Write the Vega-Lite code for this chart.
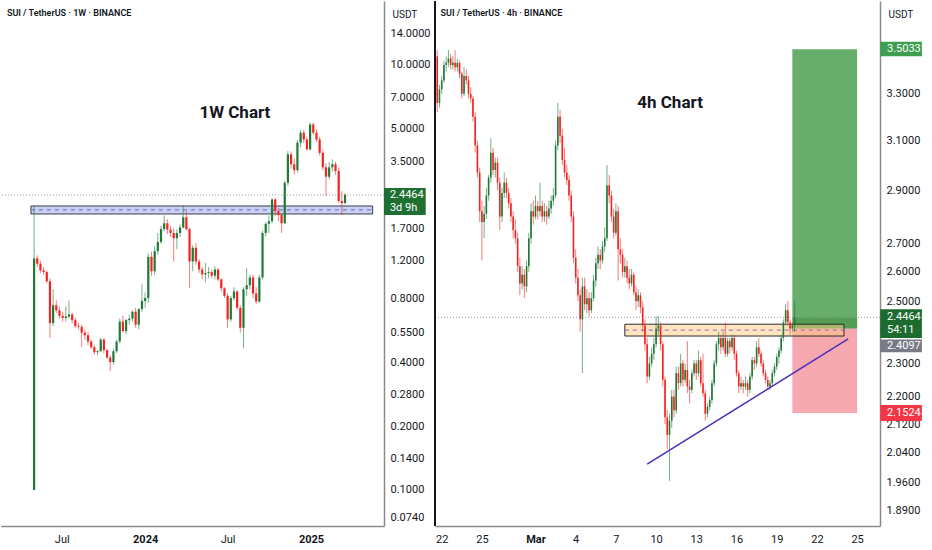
{
  "$schema": "https://vega.github.io/schema/vega-lite/v6.json",
  "padding": 0,
  "background": "white",
  "bounds": "flush",
  "spacing": 51,
  "config": {
    "view": {"stroke": null},
    "font": "Roboto",
    "axis": {"labelFont": "Roboto", "labelFontSize": 11, "labelColor": "#131722", "ticks": false, "grid": false, "domainColor": "#8a8a8a", "domainWidth": 1.5, "labelOverlap": false, "labelFlush": false}
  },
  "datasets": {
    "weekly": [
      {"t": "2023-05-01", "o": 0.1, "h": 2.17, "l": 0.1, "c": 1.23},
      {"t": "2023-05-08", "o": 1.23, "h": 1.27, "l": 1.12, "c": 1.16},
      {"t": "2023-05-15", "o": 1.16, "h": 1.2, "l": 1.05, "c": 1.08},
      {"t": "2023-05-22", "o": 1.08, "h": 1.12, "l": 1.03, "c": 1.06},
      {"t": "2023-05-29", "o": 1.06, "h": 1.08, "l": 0.94, "c": 0.96},
      {"t": "2023-06-05", "o": 0.96, "h": 0.99, "l": 0.52, "c": 0.61},
      {"t": "2023-06-12", "o": 0.61, "h": 0.88, "l": 0.59, "c": 0.74},
      {"t": "2023-06-19", "o": 0.74, "h": 0.78, "l": 0.68, "c": 0.7},
      {"t": "2023-06-26", "o": 0.7, "h": 0.73, "l": 0.64, "c": 0.66},
      {"t": "2023-07-03", "o": 0.66, "h": 0.69, "l": 0.62, "c": 0.645},
      {"t": "2023-07-10", "o": 0.645, "h": 0.73, "l": 0.62, "c": 0.655},
      {"t": "2023-07-17", "o": 0.655, "h": 0.78, "l": 0.64, "c": 0.67},
      {"t": "2023-07-24", "o": 0.67, "h": 0.68, "l": 0.61, "c": 0.63},
      {"t": "2023-07-31", "o": 0.63, "h": 0.645, "l": 0.58, "c": 0.59},
      {"t": "2023-08-07", "o": 0.59, "h": 0.61, "l": 0.57, "c": 0.585},
      {"t": "2023-08-14", "o": 0.585, "h": 0.6, "l": 0.47, "c": 0.55},
      {"t": "2023-08-21", "o": 0.55, "h": 0.57, "l": 0.51, "c": 0.535},
      {"t": "2023-08-28", "o": 0.535, "h": 0.555, "l": 0.48, "c": 0.5},
      {"t": "2023-09-04", "o": 0.5, "h": 0.51, "l": 0.46, "c": 0.47},
      {"t": "2023-09-11", "o": 0.47, "h": 0.48, "l": 0.435, "c": 0.445},
      {"t": "2023-09-18", "o": 0.445, "h": 0.455, "l": 0.43, "c": 0.45},
      {"t": "2023-09-25", "o": 0.45, "h": 0.52, "l": 0.445, "c": 0.51},
      {"t": "2023-10-02", "o": 0.51, "h": 0.52, "l": 0.44, "c": 0.455},
      {"t": "2023-10-09", "o": 0.455, "h": 0.46, "l": 0.415, "c": 0.42},
      {"t": "2023-10-16", "o": 0.42, "h": 0.43, "l": 0.364, "c": 0.4},
      {"t": "2023-10-23", "o": 0.4, "h": 0.46, "l": 0.39, "c": 0.45},
      {"t": "2023-10-30", "o": 0.45, "h": 0.51, "l": 0.44, "c": 0.5},
      {"t": "2023-11-06", "o": 0.5, "h": 0.64, "l": 0.49, "c": 0.62},
      {"t": "2023-11-13", "o": 0.62, "h": 0.66, "l": 0.55, "c": 0.56},
      {"t": "2023-11-20", "o": 0.56, "h": 0.64, "l": 0.54, "c": 0.63},
      {"t": "2023-11-27", "o": 0.63, "h": 0.67, "l": 0.6, "c": 0.64},
      {"t": "2023-12-04", "o": 0.64, "h": 0.7, "l": 0.62, "c": 0.69},
      {"t": "2023-12-11", "o": 0.69, "h": 0.72, "l": 0.58, "c": 0.6},
      {"t": "2023-12-18", "o": 0.6, "h": 0.72, "l": 0.57, "c": 0.71},
      {"t": "2023-12-25", "o": 0.71, "h": 0.93, "l": 0.69, "c": 0.775},
      {"t": "2024-01-01", "o": 0.775, "h": 0.85, "l": 0.72, "c": 0.8},
      {"t": "2024-01-08", "o": 0.8, "h": 1.3, "l": 0.76, "c": 1.25},
      {"t": "2024-01-15", "o": 1.25, "h": 1.32, "l": 1.02, "c": 1.07},
      {"t": "2024-01-22", "o": 1.07, "h": 1.4, "l": 1.03, "c": 1.33},
      {"t": "2024-01-29", "o": 1.33, "h": 1.62, "l": 1.28, "c": 1.47},
      {"t": "2024-02-05", "o": 1.47, "h": 1.75, "l": 1.44, "c": 1.69},
      {"t": "2024-02-12", "o": 1.69, "h": 1.96, "l": 1.65, "c": 1.8},
      {"t": "2024-02-19", "o": 1.8, "h": 1.88, "l": 1.6, "c": 1.68},
      {"t": "2024-02-26", "o": 1.68, "h": 1.75, "l": 1.55, "c": 1.62},
      {"t": "2024-03-04", "o": 1.62, "h": 1.7, "l": 1.19, "c": 1.53},
      {"t": "2024-03-11", "o": 1.53, "h": 1.68, "l": 1.36, "c": 1.62},
      {"t": "2024-03-18", "o": 1.62, "h": 1.78, "l": 1.55, "c": 1.72},
      {"t": "2024-03-25", "o": 1.72, "h": 2.18, "l": 1.7, "c": 1.92},
      {"t": "2024-04-01", "o": 1.92, "h": 2.05, "l": 1.66, "c": 1.69},
      {"t": "2024-04-08", "o": 1.69, "h": 1.72, "l": 0.89, "c": 1.19},
      {"t": "2024-04-15", "o": 1.19, "h": 1.42, "l": 1.07, "c": 1.38},
      {"t": "2024-04-22", "o": 1.38, "h": 1.45, "l": 1.15, "c": 1.19},
      {"t": "2024-04-29", "o": 1.19, "h": 1.22, "l": 1.05, "c": 1.09},
      {"t": "2024-05-06", "o": 1.09, "h": 1.12, "l": 0.98, "c": 1.035},
      {"t": "2024-05-13", "o": 1.035, "h": 1.17, "l": 0.95, "c": 1.05},
      {"t": "2024-05-20", "o": 1.05, "h": 1.12, "l": 0.99, "c": 1.06},
      {"t": "2024-05-27", "o": 1.06, "h": 1.09, "l": 0.99, "c": 1.02},
      {"t": "2024-06-03", "o": 1.02, "h": 1.13, "l": 0.98, "c": 1.09},
      {"t": "2024-06-10", "o": 1.09, "h": 1.11, "l": 0.96, "c": 0.98},
      {"t": "2024-06-17", "o": 0.98, "h": 0.99, "l": 0.86, "c": 0.89},
      {"t": "2024-06-24", "o": 0.89, "h": 0.9, "l": 0.8, "c": 0.82},
      {"t": "2024-07-01", "o": 0.82, "h": 0.84, "l": 0.58, "c": 0.635},
      {"t": "2024-07-08", "o": 0.635, "h": 0.82, "l": 0.62, "c": 0.8},
      {"t": "2024-07-15", "o": 0.8, "h": 0.9, "l": 0.78, "c": 0.86},
      {"t": "2024-07-22", "o": 0.86, "h": 0.87, "l": 0.7, "c": 0.72},
      {"t": "2024-07-29", "o": 0.72, "h": 0.74, "l": 0.55, "c": 0.58},
      {"t": "2024-08-05", "o": 0.58, "h": 0.9, "l": 0.465, "c": 0.88},
      {"t": "2024-08-12", "o": 0.88, "h": 1.11, "l": 0.82, "c": 0.92},
      {"t": "2024-08-19", "o": 0.92, "h": 1.03, "l": 0.88, "c": 1.0},
      {"t": "2024-08-26", "o": 1.0, "h": 1.03, "l": 0.8, "c": 0.84},
      {"t": "2024-09-02", "o": 0.84, "h": 0.9, "l": 0.75, "c": 0.77},
      {"t": "2024-09-09", "o": 0.77, "h": 1.03, "l": 0.76, "c": 1.0},
      {"t": "2024-09-16", "o": 1.0, "h": 1.66, "l": 0.98, "c": 1.62},
      {"t": "2024-09-23", "o": 1.62, "h": 1.82, "l": 1.56, "c": 1.79},
      {"t": "2024-09-30", "o": 1.79, "h": 1.96, "l": 1.62, "c": 1.84},
      {"t": "2024-10-07", "o": 1.84, "h": 2.36, "l": 1.8, "c": 2.33},
      {"t": "2024-10-14", "o": 2.33, "h": 2.37, "l": 1.95, "c": 2.05},
      {"t": "2024-10-21", "o": 2.05, "h": 2.12, "l": 1.85, "c": 1.97},
      {"t": "2024-10-28", "o": 1.97, "h": 2.0, "l": 1.62, "c": 1.8},
      {"t": "2024-11-04", "o": 1.8, "h": 2.85, "l": 1.78, "c": 2.79},
      {"t": "2024-11-11", "o": 2.79, "h": 3.94, "l": 2.7, "c": 3.8},
      {"t": "2024-11-18", "o": 3.8, "h": 3.92, "l": 3.25, "c": 3.41},
      {"t": "2024-11-25", "o": 3.41, "h": 3.62, "l": 3.05, "c": 3.2},
      {"t": "2024-12-02", "o": 3.2, "h": 4.45, "l": 3.12, "c": 4.31},
      {"t": "2024-12-09", "o": 4.31, "h": 4.95, "l": 4.1, "c": 4.8},
      {"t": "2024-12-16", "o": 4.8, "h": 4.95, "l": 4.3, "c": 4.46},
      {"t": "2024-12-23", "o": 4.46, "h": 4.6, "l": 3.95, "c": 4.01},
      {"t": "2024-12-30", "o": 4.01, "h": 5.36, "l": 3.95, "c": 5.25},
      {"t": "2025-01-06", "o": 5.25, "h": 5.36, "l": 4.7, "c": 4.8},
      {"t": "2025-01-13", "o": 4.8, "h": 5.0, "l": 4.35, "c": 4.46},
      {"t": "2025-01-20", "o": 4.46, "h": 4.6, "l": 3.75, "c": 3.86},
      {"t": "2025-01-27", "o": 3.86, "h": 4.0, "l": 3.2, "c": 3.3},
      {"t": "2025-02-03", "o": 3.3, "h": 3.45, "l": 2.42, "c": 2.98},
      {"t": "2025-02-10", "o": 2.98, "h": 3.5, "l": 2.9, "c": 3.3},
      {"t": "2025-02-17", "o": 3.3, "h": 3.6, "l": 3.15, "c": 3.41},
      {"t": "2025-02-24", "o": 3.41, "h": 3.5, "l": 3.05, "c": 3.17},
      {"t": "2025-03-03", "o": 3.17, "h": 3.3, "l": 2.25, "c": 2.29},
      {"t": "2025-03-10", "o": 2.29, "h": 2.55, "l": 1.97, "c": 2.24},
      {"t": "2025-03-17", "o": 2.24, "h": 2.5, "l": 2.21, "c": 2.4464}
    ],
    "h4": [
      {"t": "2025-02-21T16:00Z", "o": 3.47, "h": 3.5, "l": 3.22, "c": 3.26},
      {"t": "2025-02-21T20:00Z", "o": 3.26, "h": 3.34, "l": 3.24, "c": 3.32},
      {"t": "2025-02-22T00:00Z", "o": 3.32, "h": 3.38, "l": 3.3, "c": 3.36},
      {"t": "2025-02-22T04:00Z", "o": 3.36, "h": 3.45, "l": 3.35, "c": 3.43},
      {"t": "2025-02-22T08:00Z", "o": 3.43, "h": 3.47, "l": 3.4, "c": 3.44},
      {"t": "2025-02-22T12:00Z", "o": 3.44, "h": 3.5, "l": 3.42, "c": 3.46},
      {"t": "2025-02-22T16:00Z", "o": 3.46, "h": 3.48, "l": 3.41, "c": 3.43},
      {"t": "2025-02-22T20:00Z", "o": 3.43, "h": 3.47, "l": 3.41, "c": 3.44},
      {"t": "2025-02-23T00:00Z", "o": 3.44, "h": 3.5, "l": 3.4, "c": 3.42},
      {"t": "2025-02-23T04:00Z", "o": 3.42, "h": 3.46, "l": 3.4, "c": 3.44},
      {"t": "2025-02-23T08:00Z", "o": 3.44, "h": 3.45, "l": 3.37, "c": 3.39},
      {"t": "2025-02-23T12:00Z", "o": 3.39, "h": 3.4, "l": 3.28, "c": 3.3},
      {"t": "2025-02-23T16:00Z", "o": 3.3, "h": 3.42, "l": 3.29, "c": 3.38},
      {"t": "2025-02-23T20:00Z", "o": 3.38, "h": 3.41, "l": 3.34, "c": 3.36},
      {"t": "2025-02-24T00:00Z", "o": 3.36, "h": 3.38, "l": 3.28, "c": 3.3},
      {"t": "2025-02-24T04:00Z", "o": 3.3, "h": 3.33, "l": 3.26, "c": 3.28},
      {"t": "2025-02-24T08:00Z", "o": 3.28, "h": 3.29, "l": 3.18, "c": 3.2},
      {"t": "2025-02-24T12:00Z", "o": 3.2, "h": 3.22, "l": 3.05, "c": 3.08},
      {"t": "2025-02-24T16:00Z", "o": 3.08, "h": 3.1, "l": 2.95, "c": 2.97},
      {"t": "2025-02-24T20:00Z", "o": 2.97, "h": 2.99, "l": 2.78, "c": 2.82},
      {"t": "2025-02-25T00:00Z", "o": 2.82, "h": 2.86, "l": 2.64, "c": 2.78},
      {"t": "2025-02-25T04:00Z", "o": 2.78, "h": 2.84, "l": 2.72, "c": 2.81},
      {"t": "2025-02-25T08:00Z", "o": 2.81, "h": 2.91, "l": 2.79, "c": 2.88},
      {"t": "2025-02-25T12:00Z", "o": 2.88, "h": 2.96, "l": 2.86, "c": 2.95},
      {"t": "2025-02-25T16:00Z", "o": 2.95, "h": 3.11, "l": 2.93, "c": 3.05},
      {"t": "2025-02-25T20:00Z", "o": 3.05, "h": 3.07, "l": 2.96, "c": 2.98},
      {"t": "2025-02-26T00:00Z", "o": 2.98, "h": 3.03, "l": 2.95, "c": 3.01},
      {"t": "2025-02-26T04:00Z", "o": 3.01, "h": 3.03, "l": 2.9, "c": 2.93},
      {"t": "2025-02-26T08:00Z", "o": 2.93, "h": 2.95, "l": 2.75, "c": 2.8},
      {"t": "2025-02-26T12:00Z", "o": 2.8, "h": 2.91, "l": 2.78, "c": 2.89},
      {"t": "2025-02-26T16:00Z", "o": 2.89, "h": 2.97, "l": 2.87, "c": 2.93},
      {"t": "2025-02-26T20:00Z", "o": 2.93, "h": 2.95, "l": 2.87, "c": 2.89},
      {"t": "2025-02-27T00:00Z", "o": 2.89, "h": 2.91, "l": 2.83, "c": 2.85},
      {"t": "2025-02-27T04:00Z", "o": 2.85, "h": 2.87, "l": 2.78, "c": 2.8},
      {"t": "2025-02-27T08:00Z", "o": 2.8, "h": 2.82, "l": 2.72, "c": 2.75},
      {"t": "2025-02-27T12:00Z", "o": 2.75, "h": 2.79, "l": 2.7, "c": 2.72},
      {"t": "2025-02-27T16:00Z", "o": 2.72, "h": 2.74, "l": 2.6, "c": 2.62},
      {"t": "2025-02-27T20:00Z", "o": 2.62, "h": 2.65, "l": 2.52, "c": 2.56},
      {"t": "2025-02-28T00:00Z", "o": 2.56, "h": 2.62, "l": 2.54, "c": 2.59},
      {"t": "2025-02-28T04:00Z", "o": 2.59, "h": 2.61, "l": 2.51, "c": 2.55},
      {"t": "2025-02-28T08:00Z", "o": 2.55, "h": 2.64, "l": 2.53, "c": 2.62},
      {"t": "2025-02-28T12:00Z", "o": 2.62, "h": 2.74, "l": 2.6, "c": 2.72},
      {"t": "2025-02-28T16:00Z", "o": 2.72, "h": 2.85, "l": 2.7, "c": 2.82},
      {"t": "2025-02-28T20:00Z", "o": 2.82, "h": 2.86, "l": 2.77, "c": 2.8},
      {"t": "2025-03-01T00:00Z", "o": 2.8, "h": 2.88, "l": 2.79, "c": 2.84},
      {"t": "2025-03-01T04:00Z", "o": 2.84, "h": 2.86, "l": 2.79, "c": 2.82},
      {"t": "2025-03-01T08:00Z", "o": 2.82, "h": 2.93, "l": 2.8, "c": 2.84},
      {"t": "2025-03-01T12:00Z", "o": 2.84, "h": 2.86, "l": 2.78, "c": 2.8},
      {"t": "2025-03-01T16:00Z", "o": 2.8, "h": 2.85, "l": 2.78, "c": 2.82},
      {"t": "2025-03-01T20:00Z", "o": 2.82, "h": 2.84, "l": 2.77, "c": 2.8},
      {"t": "2025-03-02T00:00Z", "o": 2.8, "h": 2.86, "l": 2.79, "c": 2.83},
      {"t": "2025-03-02T04:00Z", "o": 2.83, "h": 2.88, "l": 2.81, "c": 2.86},
      {"t": "2025-03-02T08:00Z", "o": 2.86, "h": 2.91, "l": 2.84, "c": 2.88},
      {"t": "2025-03-02T12:00Z", "o": 2.88, "h": 3.1, "l": 2.87, "c": 3.08},
      {"t": "2025-03-02T16:00Z", "o": 3.08, "h": 3.26, "l": 3.06, "c": 3.2},
      {"t": "2025-03-02T20:00Z", "o": 3.2, "h": 3.23, "l": 3.09, "c": 3.12},
      {"t": "2025-03-03T00:00Z", "o": 3.12, "h": 3.15, "l": 3.0, "c": 3.02},
      {"t": "2025-03-03T04:00Z", "o": 3.02, "h": 3.07, "l": 2.95, "c": 2.97},
      {"t": "2025-03-03T08:00Z", "o": 2.97, "h": 3.0, "l": 2.92, "c": 2.94},
      {"t": "2025-03-03T12:00Z", "o": 2.94, "h": 2.96, "l": 2.86, "c": 2.88},
      {"t": "2025-03-03T16:00Z", "o": 2.88, "h": 2.9, "l": 2.78, "c": 2.8},
      {"t": "2025-03-03T20:00Z", "o": 2.8, "h": 2.82, "l": 2.63, "c": 2.65},
      {"t": "2025-03-04T00:00Z", "o": 2.65, "h": 2.68, "l": 2.56, "c": 2.58},
      {"t": "2025-03-04T04:00Z", "o": 2.58, "h": 2.61, "l": 2.5, "c": 2.52},
      {"t": "2025-03-04T08:00Z", "o": 2.52, "h": 2.54, "l": 2.4, "c": 2.44},
      {"t": "2025-03-04T12:00Z", "o": 2.44, "h": 2.58, "l": 2.27, "c": 2.55},
      {"t": "2025-03-04T16:00Z", "o": 2.55, "h": 2.58, "l": 2.47, "c": 2.49},
      {"t": "2025-03-04T20:00Z", "o": 2.49, "h": 2.54, "l": 2.46, "c": 2.51},
      {"t": "2025-03-05T00:00Z", "o": 2.51, "h": 2.53, "l": 2.45, "c": 2.47},
      {"t": "2025-03-05T04:00Z", "o": 2.47, "h": 2.53, "l": 2.46, "c": 2.51},
      {"t": "2025-03-05T08:00Z", "o": 2.51, "h": 2.59, "l": 2.5, "c": 2.57},
      {"t": "2025-03-05T12:00Z", "o": 2.57, "h": 2.65, "l": 2.55, "c": 2.63},
      {"t": "2025-03-05T16:00Z", "o": 2.63, "h": 2.69, "l": 2.61, "c": 2.66},
      {"t": "2025-03-05T20:00Z", "o": 2.66, "h": 2.68, "l": 2.61, "c": 2.64},
      {"t": "2025-03-06T00:00Z", "o": 2.64, "h": 2.71, "l": 2.63, "c": 2.69},
      {"t": "2025-03-06T04:00Z", "o": 2.69, "h": 2.76, "l": 2.67, "c": 2.72},
      {"t": "2025-03-06T08:00Z", "o": 2.72, "h": 3.0, "l": 2.71, "c": 2.92},
      {"t": "2025-03-06T12:00Z", "o": 2.92, "h": 2.96, "l": 2.85, "c": 2.88},
      {"t": "2025-03-06T16:00Z", "o": 2.88, "h": 2.9, "l": 2.78, "c": 2.8},
      {"t": "2025-03-06T20:00Z", "o": 2.8, "h": 2.83, "l": 2.72, "c": 2.74},
      {"t": "2025-03-07T00:00Z", "o": 2.74, "h": 2.85, "l": 2.73, "c": 2.82},
      {"t": "2025-03-07T04:00Z", "o": 2.82, "h": 2.84, "l": 2.57, "c": 2.68},
      {"t": "2025-03-07T08:00Z", "o": 2.68, "h": 2.72, "l": 2.63, "c": 2.66},
      {"t": "2025-03-07T12:00Z", "o": 2.66, "h": 2.68, "l": 2.58, "c": 2.6},
      {"t": "2025-03-07T16:00Z", "o": 2.6, "h": 2.65, "l": 2.58, "c": 2.62},
      {"t": "2025-03-07T20:00Z", "o": 2.62, "h": 2.64, "l": 2.56, "c": 2.58},
      {"t": "2025-03-08T00:00Z", "o": 2.58, "h": 2.61, "l": 2.54, "c": 2.56},
      {"t": "2025-03-08T04:00Z", "o": 2.56, "h": 2.61, "l": 2.55, "c": 2.59},
      {"t": "2025-03-08T08:00Z", "o": 2.59, "h": 2.6, "l": 2.52, "c": 2.53},
      {"t": "2025-03-08T12:00Z", "o": 2.53, "h": 2.55, "l": 2.47, "c": 2.5},
      {"t": "2025-03-08T16:00Z", "o": 2.5, "h": 2.54, "l": 2.48, "c": 2.52},
      {"t": "2025-03-08T20:00Z", "o": 2.52, "h": 2.53, "l": 2.46, "c": 2.48},
      {"t": "2025-03-09T00:00Z", "o": 2.48, "h": 2.5, "l": 2.4, "c": 2.42},
      {"t": "2025-03-09T04:00Z", "o": 2.42, "h": 2.44, "l": 2.34, "c": 2.36},
      {"t": "2025-03-09T08:00Z", "o": 2.36, "h": 2.38, "l": 2.24, "c": 2.26},
      {"t": "2025-03-09T12:00Z", "o": 2.26, "h": 2.32, "l": 2.25, "c": 2.3},
      {"t": "2025-03-09T16:00Z", "o": 2.3, "h": 2.35, "l": 2.29, "c": 2.33},
      {"t": "2025-03-09T20:00Z", "o": 2.33, "h": 2.38, "l": 2.31, "c": 2.36},
      {"t": "2025-03-10T00:00Z", "o": 2.36, "h": 2.45, "l": 2.35, "c": 2.41},
      {"t": "2025-03-10T04:00Z", "o": 2.41, "h": 2.45, "l": 2.39, "c": 2.42},
      {"t": "2025-03-10T08:00Z", "o": 2.42, "h": 2.43, "l": 2.34, "c": 2.36},
      {"t": "2025-03-10T12:00Z", "o": 2.36, "h": 2.37, "l": 2.23, "c": 2.25},
      {"t": "2025-03-10T16:00Z", "o": 2.25, "h": 2.26, "l": 2.12, "c": 2.14},
      {"t": "2025-03-10T20:00Z", "o": 2.14, "h": 2.16, "l": 2.05, "c": 2.09},
      {"t": "2025-03-11T00:00Z", "o": 2.09, "h": 2.15, "l": 1.965, "c": 2.13},
      {"t": "2025-03-11T04:00Z", "o": 2.13, "h": 2.22, "l": 2.11, "c": 2.2},
      {"t": "2025-03-11T08:00Z", "o": 2.2, "h": 2.22, "l": 2.14, "c": 2.16},
      {"t": "2025-03-11T12:00Z", "o": 2.16, "h": 2.29, "l": 2.15, "c": 2.27},
      {"t": "2025-03-11T16:00Z", "o": 2.27, "h": 2.29, "l": 2.22, "c": 2.24},
      {"t": "2025-03-11T20:00Z", "o": 2.24, "h": 2.33, "l": 2.23, "c": 2.3},
      {"t": "2025-03-12T00:00Z", "o": 2.3, "h": 2.31, "l": 2.23, "c": 2.25},
      {"t": "2025-03-12T04:00Z", "o": 2.25, "h": 2.3, "l": 2.24, "c": 2.28},
      {"t": "2025-03-12T08:00Z", "o": 2.28, "h": 2.37, "l": 2.21, "c": 2.23},
      {"t": "2025-03-12T12:00Z", "o": 2.23, "h": 2.25, "l": 2.18, "c": 2.22},
      {"t": "2025-03-12T16:00Z", "o": 2.22, "h": 2.28, "l": 2.21, "c": 2.27},
      {"t": "2025-03-12T20:00Z", "o": 2.27, "h": 2.31, "l": 2.26, "c": 2.3},
      {"t": "2025-03-13T00:00Z", "o": 2.3, "h": 2.31, "l": 2.25, "c": 2.27},
      {"t": "2025-03-13T04:00Z", "o": 2.27, "h": 2.34, "l": 2.26, "c": 2.31},
      {"t": "2025-03-13T08:00Z", "o": 2.31, "h": 2.32, "l": 2.23, "c": 2.24},
      {"t": "2025-03-13T12:00Z", "o": 2.24, "h": 2.33, "l": 2.2, "c": 2.21},
      {"t": "2025-03-13T16:00Z", "o": 2.21, "h": 2.22, "l": 2.13, "c": 2.15},
      {"t": "2025-03-13T20:00Z", "o": 2.15, "h": 2.18, "l": 2.14, "c": 2.17},
      {"t": "2025-03-14T00:00Z", "o": 2.17, "h": 2.2, "l": 2.16, "c": 2.19},
      {"t": "2025-03-14T04:00Z", "o": 2.19, "h": 2.25, "l": 2.18, "c": 2.24},
      {"t": "2025-03-14T08:00Z", "o": 2.24, "h": 2.31, "l": 2.23, "c": 2.3},
      {"t": "2025-03-14T12:00Z", "o": 2.3, "h": 2.37, "l": 2.29, "c": 2.36},
      {"t": "2025-03-14T16:00Z", "o": 2.36, "h": 2.4, "l": 2.34, "c": 2.38},
      {"t": "2025-03-14T20:00Z", "o": 2.38, "h": 2.39, "l": 2.33, "c": 2.35},
      {"t": "2025-03-15T00:00Z", "o": 2.35, "h": 2.4, "l": 2.34, "c": 2.38},
      {"t": "2025-03-15T04:00Z", "o": 2.38, "h": 2.43, "l": 2.32, "c": 2.33},
      {"t": "2025-03-15T08:00Z", "o": 2.33, "h": 2.38, "l": 2.32, "c": 2.37},
      {"t": "2025-03-15T12:00Z", "o": 2.37, "h": 2.38, "l": 2.33, "c": 2.35},
      {"t": "2025-03-15T16:00Z", "o": 2.35, "h": 2.39, "l": 2.34, "c": 2.38},
      {"t": "2025-03-15T20:00Z", "o": 2.38, "h": 2.39, "l": 2.31, "c": 2.33},
      {"t": "2025-03-16T00:00Z", "o": 2.33, "h": 2.34, "l": 2.26, "c": 2.27},
      {"t": "2025-03-16T04:00Z", "o": 2.27, "h": 2.28, "l": 2.21, "c": 2.23},
      {"t": "2025-03-16T08:00Z", "o": 2.23, "h": 2.26, "l": 2.22, "c": 2.24},
      {"t": "2025-03-16T12:00Z", "o": 2.24, "h": 2.25, "l": 2.21, "c": 2.23},
      {"t": "2025-03-16T16:00Z", "o": 2.23, "h": 2.26, "l": 2.22, "c": 2.24},
      {"t": "2025-03-16T20:00Z", "o": 2.24, "h": 2.25, "l": 2.2, "c": 2.22},
      {"t": "2025-03-17T00:00Z", "o": 2.22, "h": 2.27, "l": 2.21, "c": 2.26},
      {"t": "2025-03-17T04:00Z", "o": 2.26, "h": 2.32, "l": 2.25, "c": 2.31},
      {"t": "2025-03-17T08:00Z", "o": 2.31, "h": 2.32, "l": 2.28, "c": 2.3},
      {"t": "2025-03-17T12:00Z", "o": 2.3, "h": 2.37, "l": 2.29, "c": 2.35},
      {"t": "2025-03-17T16:00Z", "o": 2.35, "h": 2.38, "l": 2.32, "c": 2.33},
      {"t": "2025-03-17T20:00Z", "o": 2.33, "h": 2.34, "l": 2.29, "c": 2.3},
      {"t": "2025-03-18T00:00Z", "o": 2.3, "h": 2.31, "l": 2.26, "c": 2.27},
      {"t": "2025-03-18T04:00Z", "o": 2.27, "h": 2.28, "l": 2.24, "c": 2.25},
      {"t": "2025-03-18T08:00Z", "o": 2.25, "h": 2.26, "l": 2.22, "c": 2.23},
      {"t": "2025-03-18T12:00Z", "o": 2.23, "h": 2.25, "l": 2.22, "c": 2.24},
      {"t": "2025-03-18T16:00Z", "o": 2.24, "h": 2.28, "l": 2.23, "c": 2.27},
      {"t": "2025-03-18T20:00Z", "o": 2.27, "h": 2.3, "l": 2.26, "c": 2.29},
      {"t": "2025-03-19T00:00Z", "o": 2.29, "h": 2.33, "l": 2.28, "c": 2.32},
      {"t": "2025-03-19T04:00Z", "o": 2.32, "h": 2.35, "l": 2.3, "c": 2.34},
      {"t": "2025-03-19T08:00Z", "o": 2.34, "h": 2.39, "l": 2.33, "c": 2.38},
      {"t": "2025-03-19T12:00Z", "o": 2.38, "h": 2.44, "l": 2.37, "c": 2.43},
      {"t": "2025-03-19T16:00Z", "o": 2.43, "h": 2.49, "l": 2.42, "c": 2.47},
      {"t": "2025-03-19T20:00Z", "o": 2.47, "h": 2.5, "l": 2.42, "c": 2.43},
      {"t": "2025-03-20T00:00Z", "o": 2.43, "h": 2.44, "l": 2.39, "c": 2.41},
      {"t": "2025-03-20T04:00Z", "o": 2.41, "h": 2.43, "l": 2.4, "c": 2.42},
      {"t": "2025-03-20T08:00Z", "o": 2.42, "h": 2.5, "l": 2.4, "c": 2.4464}
    ],
    "wzone": [{"t1": "2023-04-24", "t2": "2025-05-17", "lo": 1.99, "hi": 2.17, "mid": 2.08}],
    "hzone": [{"t1": "2025-03-07T16:00Z", "t2": "2025-03-24T00:30Z", "lo": 2.386, "hi": 2.424, "mid": 2.405}],
    "pos": [{"t1": "2025-03-20T04:00Z", "t2": "2025-03-25T00:00Z", "stop": 2.1524, "entry": 2.4097, "last": 2.4464, "target": 3.5033}],
    "trend": [{"t": "2025-03-09T08:00Z", "p": 2.0096}, {"t": "2025-03-24T08:00Z", "p": 2.377}],
    "hbox": [
      {"kind": "target", "t1": "2025-03-26T17:30Z", "t2": "2025-03-29T20:00Z", "lo": 3.471, "hi": 3.538},
      {"kind": "last", "t1": "2025-03-26T17:30Z", "t2": "2025-03-29T20:00Z", "lo": 2.38, "hi": 2.473},
      {"kind": "entry", "t1": "2025-03-26T17:30Z", "t2": "2025-03-29T20:00Z", "lo": 2.335, "hi": 2.375},
      {"kind": "stop", "t1": "2025-03-26T17:30Z", "t2": "2025-03-29T20:00Z", "lo": 2.129, "hi": 2.1755}
    ],
    "hboxtext": [
      {"t": "2025-03-27T05:30Z", "p": 3.5033, "label": "3.5033"},
      {"t": "2025-03-27T05:30Z", "p": 2.4464, "label": "2.4464"},
      {"t": "2025-03-27T05:30Z", "p": 2.405, "label": "54:11"},
      {"t": "2025-03-27T05:30Z", "p": 2.355, "label": "2.4097"},
      {"t": "2025-03-27T05:30Z", "p": 2.1524, "label": "2.1524"}
    ]
  },
  "hconcat": [
    {
      "width": 383,
      "height": 525,
      "layer": [
        {
          "data": {"name": "wzone"},
          "mark": {"type": "rect", "fill": "#c9cff5", "stroke": "#3c4043", "strokeWidth": 1},
          "encoding": {
            "x": {"field": "t1", "type": "temporal"},
            "x2": {"field": "t2"},
            "y": {"field": "lo", "type": "quantitative"},
            "y2": {"field": "hi"}
          }
        },
        {
          "data": {"name": "wzone"},
          "mark": {"type": "rule", "color": "#5c6bc0", "strokeDash": [4, 4], "strokeWidth": 1},
          "encoding": {
            "x": {"field": "t1", "type": "temporal"},
            "x2": {"field": "t2"},
            "y": {"field": "mid", "type": "quantitative"}
          }
        },
        {
          "data": {"values": [{"p": 2.4464}]},
          "mark": {"type": "rule", "color": "#9e9e9e", "strokeDash": [1, 2], "strokeWidth": 1},
          "encoding": {"y": {"field": "p", "type": "quantitative"}}
        },
        {
          "data": {"name": "weekly"},
          "mark": {"type": "rule", "strokeWidth": 1, "opacity": 0.6},
          "encoding": {
            "x": {
              "field": "t", "type": "temporal",
              "scale": {"type": "utc", "domain": [{"year": 2023, "month": 2, "date": 17, "utc": true}, {"year": 2025, "month": 6, "date": 11, "utc": true}], "nice": false, "padding": 0},
              "axis": {
                "title": null, "labelPadding": 7,
                "values": [{"year": 2023, "month": 7, "date": 1, "utc": true}, {"year": 2024, "month": 1, "date": 1, "utc": true}, {"year": 2024, "month": 7, "date": 1, "utc": true}, {"year": 2025, "month": 1, "date": 1, "utc": true}],
                "labelExpr": "utcmonth(datum.value) == 0 ? utcFormat(datum.value, '%Y') : utcFormat(datum.value, '%b')",
                "labelFontWeight": {"condition": {"test": "utcmonth(datum.value) == 0", "value": "bold"}, "value": "normal"}
              }
            },
            "y": {
              "field": "l", "type": "quantitative",
              "scale": {"type": "log", "domain": [0.0677, 20], "nice": false},
              "axis": {
                "orient": "right", "format": ".4f", "labelPadding": 6,
                "values": [0.074, 0.1, 0.14, 0.2, 0.28, 0.4, 0.55, 0.8, 1.2, 1.7, 3.5, 5, 7, 10, 14],
                "title": "USDT", "titleAngle": 0, "titleAlign": "left", "titleBaseline": "middle", "titleX": 8, "titleY": 13,
                "titleFontWeight": "normal", "titleFontSize": 10, "titleColor": "#131722", "titleFont": "Roboto"
              }
            },
            "y2": {"field": "h"},
            "color": {"condition": {"test": "datum.c >= datum.o", "value": "#1f7a36"}, "value": "#f7221f"}
          }
        },
        {
          "data": {"name": "weekly"},
          "mark": {"type": "bar", "width": 2.2},
          "encoding": {
            "x": {"field": "t", "type": "temporal"},
            "y": {"field": "o", "type": "quantitative"},
            "y2": {"field": "c"},
            "color": {"condition": {"test": "datum.c >= datum.o", "value": "#1f7a36"}, "value": "#f7221f"}
          }
        },
        {
          "data": {"values": [{"t": "2024-07-17", "p": 5.95, "label": "1W Chart"}]},
          "mark": {"type": "text", "fontSize": 17, "fontWeight": "bold", "color": "#131722", "baseline": "middle"},
          "encoding": {
            "x": {"field": "t", "type": "temporal"},
            "y": {"field": "p", "type": "quantitative"},
            "text": {"field": "label"}
          }
        },
        {
          "data": {"values": [{"t": "2023-03-02", "p": 17.6, "label": "SUI / TetherUS · 1W · BINANCE"}]},
          "mark": {"type": "text", "fontSize": 9, "fontWeight": 600, "color": "#131722", "align": "left", "baseline": "middle"},
          "encoding": {
            "x": {"field": "t", "type": "temporal"},
            "y": {"field": "p", "type": "quantitative"},
            "text": {"field": "label"}
          }
        },
        {
          "data": {"values": [{"t1": "2025-06-11", "t2": "2025-09-11", "lo": 1.97, "hi": 2.64}]},
          "mark": {"type": "rect", "fill": "#1f6f32"},
          "encoding": {
            "x": {"field": "t1", "type": "temporal"},
            "x2": {"field": "t2"},
            "y": {"field": "lo", "type": "quantitative"},
            "y2": {"field": "hi"}
          }
        },
        {
          "data": {"values": [{"t": "2025-06-24", "p": 2.446, "label": "2.4464"}, {"t": "2025-06-24", "p": 2.12, "label": "3d 9h"}]},
          "mark": {"type": "text", "fontSize": 11, "color": "#ffffff", "align": "left", "baseline": "middle"},
          "encoding": {
            "x": {"field": "t", "type": "temporal"},
            "y": {"field": "p", "type": "quantitative"},
            "text": {"field": "label"}
          }
        }
      ]
    },
    {
      "width": 445,
      "height": 525,
      "layer": [
        {
          "data": {"name": "pos"},
          "mark": {"type": "rect", "fill": "#67ae6b"},
          "encoding": {
            "x": {"field": "t1", "type": "temporal"},
            "x2": {"field": "t2"},
            "y": {"field": "entry", "type": "quantitative"},
            "y2": {"field": "target"}
          }
        },
        {
          "data": {"name": "pos"},
          "mark": {"type": "rect", "fill": "#2e7d32", "opacity": 0.35},
          "encoding": {
            "x": {"field": "t1", "type": "temporal"},
            "x2": {"field": "t2"},
            "y": {"field": "entry", "type": "quantitative"},
            "y2": {"field": "last"}
          }
        },
        {
          "data": {"name": "pos"},
          "mark": {"type": "rect", "fill": "#f6a8af"},
          "encoding": {
            "x": {"field": "t1", "type": "temporal"},
            "x2": {"field": "t2"},
            "y": {"field": "stop", "type": "quantitative"},
            "y2": {"field": "entry"}
          }
        },
        {
          "data": {"values": [{"p": 2.4464}]},
          "mark": {"type": "rule", "color": "#9e9e9e", "strokeDash": [1, 2], "strokeWidth": 1},
          "encoding": {"y": {"field": "p", "type": "quantitative"}}
        },
        {
          "data": {"name": "hzone"},
          "mark": {"type": "rect", "fill": "#ffcc80", "fillOpacity": 0.5, "stroke": "#2b2b2b", "strokeWidth": 1},
          "encoding": {
            "x": {"field": "t1", "type": "temporal"},
            "x2": {"field": "t2"},
            "y": {"field": "lo", "type": "quantitative"},
            "y2": {"field": "hi"}
          }
        },
        {
          "data": {"name": "hzone"},
          "mark": {"type": "rule", "color": "#9c5fc9", "strokeDash": [4, 4], "strokeWidth": 1},
          "encoding": {
            "x": {"field": "t1", "type": "temporal"},
            "x2": {"field": "t2"},
            "y": {"field": "mid", "type": "quantitative"}
          }
        },
        {
          "data": {"name": "h4"},
          "mark": {"type": "rule", "strokeWidth": 1, "opacity": 0.6},
          "encoding": {
            "x": {
              "field": "t", "type": "temporal",
              "scale": {"type": "utc", "domain": [{"year": 2025, "month": 2, "date": 21, "hours": 12, "utc": true}, {"year": 2025, "month": 3, "date": 26, "hours": 17, "utc": true}], "nice": false, "padding": 0},
              "axis": {
                "title": null, "labelPadding": 7,
                "values": [
                  {"year": 2025, "month": 2, "date": 22, "utc": true}, {"year": 2025, "month": 2, "date": 25, "utc": true},
                  {"year": 2025, "month": 3, "date": 1, "utc": true}, {"year": 2025, "month": 3, "date": 4, "utc": true},
                  {"year": 2025, "month": 3, "date": 7, "utc": true}, {"year": 2025, "month": 3, "date": 10, "utc": true},
                  {"year": 2025, "month": 3, "date": 13, "utc": true}, {"year": 2025, "month": 3, "date": 16, "utc": true},
                  {"year": 2025, "month": 3, "date": 19, "utc": true}, {"year": 2025, "month": 3, "date": 22, "utc": true},
                  {"year": 2025, "month": 3, "date": 25, "utc": true}
                ],
                "labelExpr": "utcdate(datum.value) == 1 ? 'Mar' : '' + utcdate(datum.value)",
                "labelFontWeight": {"condition": {"test": "utcdate(datum.value) == 1", "value": "bold"}, "value": "normal"}
              }
            },
            "y": {
              "field": "l", "type": "quantitative",
              "scale": {"type": "log", "domain": [1.85, 3.737], "nice": false},
              "axis": {
                "orient": "right", "format": ".4f", "labelPadding": 6,
                "values": [1.89, 1.96, 2.04, 2.12, 2.2, 2.3, 2.5, 2.6, 2.7, 2.9, 3.1, 3.3],
                "title": "USDT", "titleAngle": 0, "titleAlign": "left", "titleBaseline": "middle", "titleX": 8, "titleY": 13,
                "titleFontWeight": "normal", "titleFontSize": 10, "titleColor": "#131722", "titleFont": "Roboto"
              }
            },
            "y2": {"field": "h"},
            "color": {"condition": {"test": "datum.c >= datum.o", "value": "#1f7a36"}, "value": "#f7221f"}
          }
        },
        {
          "data": {"name": "h4"},
          "mark": {"type": "bar", "width": 1.6},
          "encoding": {
            "x": {"field": "t", "type": "temporal"},
            "y": {"field": "o", "type": "quantitative"},
            "y2": {"field": "c"},
            "color": {"condition": {"test": "datum.c >= datum.o", "value": "#1f7a36"}, "value": "#f7221f"}
          }
        },
        {
          "data": {"name": "trend"},
          "mark": {"type": "line", "color": "#4b2fb8", "strokeWidth": 1.5},
          "encoding": {
            "x": {"field": "t", "type": "temporal"},
            "y": {"field": "p", "type": "quantitative"}
          }
        },
        {
          "data": {"values": [{"t": "2025-02-21T12:00Z"}]},
          "mark": {"type": "rule", "color": "#131722", "strokeWidth": 2},
          "encoding": {"x": {"field": "t", "type": "temporal"}}
        },
        {
          "data": {"values": [{"t": "2025-03-11T01:00Z", "p": 3.26, "label": "4h Chart"}]},
          "mark": {"type": "text", "fontSize": 17, "fontWeight": "bold", "color": "#131722", "baseline": "middle"},
          "encoding": {
            "x": {"field": "t", "type": "temporal"},
            "y": {"field": "p", "type": "quantitative"},
            "text": {"field": "label"}
          }
        },
        {
          "data": {"values": [{"t": "2025-02-21T22:00Z", "p": 3.676, "label": "SUI / TetherUS · 4h · BINANCE"}]},
          "mark": {"type": "text", "fontSize": 9, "fontWeight": 600, "color": "#131722", "align": "left", "baseline": "middle"},
          "encoding": {
            "x": {"field": "t", "type": "temporal"},
            "y": {"field": "p", "type": "quantitative"},
            "text": {"field": "label"}
          }
        },
        {
          "data": {"name": "hbox"},
          "mark": {"type": "rect"},
          "encoding": {
            "x": {"field": "t1", "type": "temporal"},
            "x2": {"field": "t2"},
            "y": {"field": "lo", "type": "quantitative"},
            "y2": {"field": "hi"},
            "color": {"field": "kind", "type": "nominal", "legend": null, "scale": {"domain": ["target", "last", "entry", "stop"], "range": ["#3d9e4f", "#1e6b30", "#787b86", "#f23645"]}}
          }
        },
        {
          "data": {"name": "hboxtext"},
          "mark": {"type": "text", "fontSize": 11, "color": "#ffffff", "align": "left", "baseline": "middle"},
          "encoding": {
            "x": {"field": "t", "type": "temporal"},
            "y": {"field": "p", "type": "quantitative"},
            "text": {"field": "label"}
          }
        }
      ]
    }
  ]
}
